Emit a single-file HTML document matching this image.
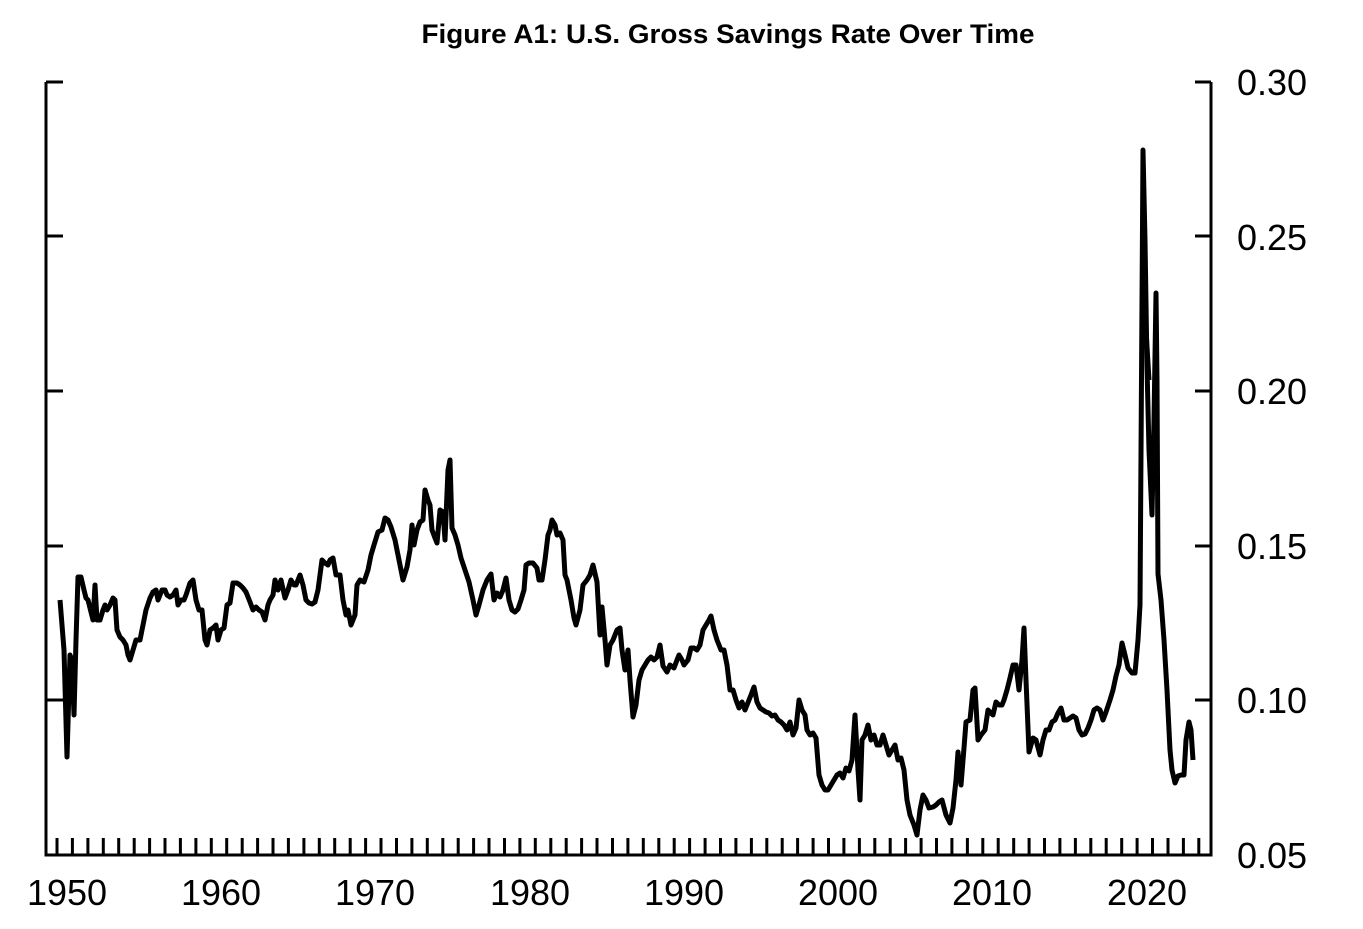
<!DOCTYPE html>
<html><head><meta charset="utf-8"><style>html,body{margin:0;padding:0;background:#fff}svg{display:block}</style></head>
<body>
<svg width="1363" height="929" viewBox="0 0 1363 929" xmlns="http://www.w3.org/2000/svg">
<text x="728" y="43" text-anchor="middle" font-family="Liberation Sans, sans-serif" font-weight="bold" font-size="27" textLength="613" lengthAdjust="spacingAndGlyphs">Figure A1: U.S. Gross Savings Rate Over Time</text>
<g stroke="#000" stroke-width="3" fill="none">
<path d="M46,82 V855 H1211 V82"/>
<path d="M46,82 H63 M46,236 H63 M46,391 H63 M46,546 H63 M46,700 H63"/>
<path d="M1211,82 H1195 M1211,236 H1195 M1211,391 H1195 M1211,546 H1195 M1211,700 H1195"/>
</g>
<g id="xt" stroke="#000" stroke-width="3"></g>
<g font-family="Liberation Sans, Arial, sans-serif" font-size="36" fill="#000">
<text x="1237" y="95">0.30</text><text x="1237" y="250">0.25</text><text x="1237" y="404">0.20</text><text x="1237" y="559">0.15</text><text x="1237" y="713">0.10</text><text x="1237" y="868">0.05</text>
<g text-anchor="middle"><text x="67" y="905">1950</text><text x="221" y="905">1960</text><text x="375" y="905">1970</text><text x="530" y="905">1980</text><text x="684" y="905">1990</text><text x="838" y="905">2000</text><text x="992" y="905">2010</text><text x="1147" y="905">2020</text></g>
</g>
<path id="s" fill="none" stroke="#000" stroke-width="5" stroke-linejoin="round" d="M60,600 L64,650 67,757 70,655 72,660 74,715 76,640 78,577 81,577 84,590 86,598 88,600 90,608 93,620 95,585 97,620 100,620 103,610 105,605 107,610 110,605 113,598 115,600 117,630 120,637 123,640 126,645 128,655 130,660 133,650 136,640 140,640 143,625 146,610 150,598 153,592 156,590 158,600 162,590 165,590 167,595 170,597 173,595 176,590 178,605 181,600 184,600 186,595 190,583 193,580 196,600 199,610 202,610 205,640 207,645 210,630 213,628 216,625 218,640 221,630 224,628 227,605 230,603 233,583 237,583 240,585 243,588 246,592 250,602 253,610 256,607 259,610 262,612 265,620 268,605 270,600 273,595 275,580 278,590 281,580 285,598 288,590 291,580 294,585 296,585 300,575 303,585 306,600 309,603 312,604 315,602 318,590 320,575 322,560 325,563 328,565 330,560 333,558 336,575 340,575 343,600 346,615 348,610 351,625 355,615 357,585 360,580 364,582 368,570 371,555 374,545 378,532 382,530 385,518 388,520 391,527 395,540 399,560 403,580 407,567 410,550 412,525 414,545 417,530 420,522 423,520 425,490 428,500 430,505 432,530 435,538 437,543 440,510 443,512 445,540 448,470 450,460 452,528 455,535 458,545 461,558 465,570 469,582 473,600 476,615 479,605 483,590 487,580 491,574 494,600 497,593 500,597 503,590 506,578 509,600 512,610 515,612 518,609 521,600 524,590 526,565 529,563 533,563 537,568 539,580 542,580 545,560 548,535 550,530 552,520 555,525 557,535 560,533 563,540 565,575 567,580 571,600 574,618 576,625 580,610 583,585 587,580 590,575 593,565 597,582 600,635 602,607 605,640 607,665 610,645 613,640 617,630 620,628 622,650 625,670 628,650 630,680 633,717 636,705 639,680 642,670 645,665 648,660 651,657 654,660 657,657 660,645 663,666 667,672 670,665 674,668 677,660 679,655 682,660 684,665 688,660 691,648 694,648 697,650 700,645 703,630 706,625 709,620 711,616 714,630 717,640 721,650 724,650 727,665 730,690 733,690 736,700 739,708 742,702 745,710 749,700 751,695 754,687 757,702 760,708 763,710 766,712 769,713 772,716 775,715 778,720 781,722 784,725 787,730 790,722 793,735 796,728 799,700 802,710 805,715 807,730 810,735 813,733 816,738 819,775 822,785 825,790 828,790 831,785 834,780 837,775 840,773 843,778 846,768 849,771 852,760 855,715 858,770 860,800 862,740 865,735 868,725 871,740 874,735 877,745 880,745 883,735 886,745 889,755 892,750 895,745 898,760 901,758 904,770 907,800 910,815 914,825 917,835 920,810 923,795 926,800 929,808 933,807 936,805 939,802 942,800 946,815 950,823 953,808 956,780 958,752 961,785 964,748 966,722 970,720 973,690 975,688 978,740 981,735 985,730 988,710 991,713 993,715 996,702 999,705 1002,705 1004,700 1007,690 1010,678 1013,665 1016,665 1019,690 1022,660 1024,628 1026,680 1029,752 1033,738 1036,740 1040,755 1043,740 1046,730 1049,730 1052,722 1055,720 1058,713 1061,708 1064,720 1067,720 1070,718 1073,716 1076,718 1079,730 1082,735 1085,734 1088,728 1091,720 1094,710 1097,708 1100,710 1103,720 1106,712 1110,700 1113,690 1116,676 1119,665 1122,643 1125,655 1128,668 1132,673 1135,673 1138,640 1140,605 1143,150 1145,240 1147,367 1149,450 1152,515 1154,420 1156,293 1157,380 1158,574 1161,600 1164,640 1167,690 1170,750 1172,770 1175,783 1178,776 1181,775 1184,775 1186,740 1189,722 1191,730 1193,760"/>
<path fill="none" stroke="#000" stroke-width="3" d="M1144,200 L1147,330 1150,380"/>
<script>
var g=document.getElementById('xt'),d='';
for(var i=0;i<75;i++){var x=57+i*15.43;d+='M'+x.toFixed(1)+',855 V838 ';}
var p=document.createElementNS('http://www.w3.org/2000/svg','path');p.setAttribute('d',d);g.appendChild(p);
</script>
</svg>
</body></html>
